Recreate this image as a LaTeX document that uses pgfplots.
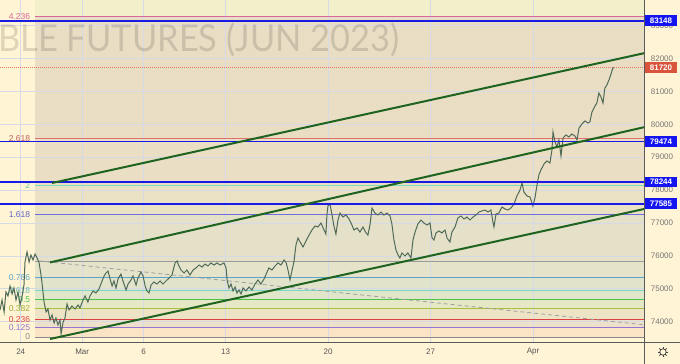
\documentclass[border=0pt]{standalone}
\usepackage{fontspec}
\setmainfont{Liberation Sans}
\newfontfamily\wmfont{Lato}
\usepackage{pgfplots}
\pgfplotsset{compat=1.18}

\definecolor{cream}{HTML}{FFF4D3}
\definecolor{panel}{HTML}{FFF4D5}
\definecolor{gridc}{HTML}{D6D9E6}
\definecolor{tickc}{HTML}{767676}
\definecolor{datec}{HTML}{555555}
\definecolor{sepc}{HTML}{5A5A5A}
\definecolor{bA}{HTML}{F2EFCB}
\definecolor{bB}{HTML}{E9DDC4}
\definecolor{bC}{HTML}{EADFC4}
\definecolor{bD}{HTML}{EBE1C5}
\definecolor{bE}{HTML}{E5E0C8}
\definecolor{bF}{HTML}{E5E3CA}
\definecolor{bG}{HTML}{E1E4CB}
\definecolor{bH}{HTML}{DFE6C9}
\definecolor{bI}{HTML}{E6E7C5}
\definecolor{bJ}{HTML}{EDE4C6}
\definecolor{bK}{HTML}{EEE1CC}
\definecolor{bL}{HTML}{FBE4C6}
\definecolor{f4236}{HTML}{D8679C}
\definecolor{f2618}{HTML}{E07070}
\definecolor{f2}{HTML}{7DDDB5}
\definecolor{f1618}{HTML}{6E6EE0}
\definecolor{f1}{HTML}{9A9A9A}
\definecolor{f0786}{HTML}{5BA3C8}
\definecolor{f0618}{HTML}{78D8C8}
\definecolor{f05}{HTML}{4CC44C}
\definecolor{f0382}{HTML}{A8C040}
\definecolor{f0236}{HTML}{E04040}
\definecolor{f0125}{HTML}{9575CD}
\definecolor{f0}{HTML}{8A8A8A}
\definecolor{lvlblue}{HTML}{1A1AE6}
\definecolor{boxblue}{HTML}{1414F0}
\definecolor{boxred}{HTML}{D9533D}
\definecolor{chan}{HTML}{1E6420}
\definecolor{pricec}{HTML}{4F6B58}

\begin{document}
\begin{tikzpicture}[x=1pt,y=1pt]
\fill[panel] (0,0) rectangle (680,364);
\begin{axis}[
  at={(0pt,22pt)}, anchor=south west,
  width=644pt, height=342pt, scale only axis,
  xmin=-0.88, xmax=30.54, ymin=73381, ymax=83778,
  clip=false,
  axis background/.style={fill=cream},
  axis line style={draw=none},
  major tick length=0pt,
  xtick={0.13,3.13,6.13,10.13,15.13,20.13,25.13},
  xticklabels={24,Mar,6,13,20,27,Apr},
  ytick={74000,75000,76000,77000,78000,79000,80000,81000,82000,83000},
  yticklabel pos=right,
  scaled y ticks=false,
  tick label style={font=\fontsize{8}{9}\selectfont, inner sep=0pt},
  xticklabel style={anchor=center, yshift=-10pt, text=datec},
  yticklabel style={anchor=center, xshift=18pt, text=tickc},
  /pgf/number format/.cd, fixed, 1000 sep={}, assume math mode=true,
]
% Fibonacci bands
\addplot[draw=none, fill=bA] coordinates {(0.84,83276) (30.54,83276) (30.54,83778) (0.84,83778)} -- cycle;
\addplot[draw=none, fill=bB] coordinates {(0.84,79554) (30.54,79554) (30.54,83276) (0.84,83276)} -- cycle;
\addplot[draw=none, fill=bC] coordinates {(0.84,78133) (30.54,78133) (30.54,79554) (0.84,79554)} -- cycle;
\addplot[draw=none, fill=bD] coordinates {(0.84,77254) (30.54,77254) (30.54,78133) (0.84,78133)} -- cycle;
\addplot[draw=none, fill=bE] coordinates {(0.84,75833) (30.54,75833) (30.54,77254) (0.84,77254)} -- cycle;
\addplot[draw=none, fill=bF] coordinates {(0.84,75341) (30.54,75341) (30.54,75833) (0.84,75833)} -- cycle;
\addplot[draw=none, fill=bG] coordinates {(0.84,74954) (30.54,74954) (30.54,75341) (0.84,75341)} -- cycle;
\addplot[draw=none, fill=bH] coordinates {(0.84,74683) (30.54,74683) (30.54,74954) (0.84,74954)} -- cycle;
\addplot[draw=none, fill=bI] coordinates {(0.84,74412) (30.54,74412) (30.54,74683) (0.84,74683)} -- cycle;
\addplot[draw=none, fill=bJ] coordinates {(0.84,74076) (30.54,74076) (30.54,74412) (0.84,74412)} -- cycle;
\addplot[draw=none, fill=bK] coordinates {(0.84,73821) (30.54,73821) (30.54,74076) (0.84,74076)} -- cycle;
\addplot[draw=none, fill=bL] coordinates {(0.84,73533) (30.54,73533) (30.54,73821) (0.84,73821)} -- cycle;

% grid
\addplot[gridc, line width=0.5pt] coordinates {(-0.88,74000) (30.54,74000)};
\addplot[gridc, line width=0.5pt] coordinates {(-0.88,75000) (30.54,75000)};
\addplot[gridc, line width=0.5pt] coordinates {(-0.88,76000) (30.54,76000)};
\addplot[gridc, line width=0.5pt] coordinates {(-0.88,77000) (30.54,77000)};
\addplot[gridc, line width=0.5pt] coordinates {(-0.88,78000) (30.54,78000)};
\addplot[gridc, line width=0.5pt] coordinates {(-0.88,79000) (30.54,79000)};
\addplot[gridc, line width=0.5pt] coordinates {(-0.88,80000) (30.54,80000)};
\addplot[gridc, line width=0.5pt] coordinates {(-0.88,81000) (30.54,81000)};
\addplot[gridc, line width=0.5pt] coordinates {(-0.88,82000) (30.54,82000)};
\addplot[gridc, line width=0.5pt] coordinates {(-0.88,83000) (30.54,83000)};
\addplot[gridc, line width=0.5pt] coordinates {(0.13,73381) (0.13,83778)};
\addplot[gridc, line width=0.5pt] coordinates {(3.13,73381) (3.13,83778)};
\addplot[gridc, line width=0.5pt] coordinates {(6.13,73381) (6.13,83778)};
\addplot[gridc, line width=0.5pt] coordinates {(10.13,73381) (10.13,83778)};
\addplot[gridc, line width=0.5pt] coordinates {(15.13,73381) (15.13,83778)};
\addplot[gridc, line width=0.5pt] coordinates {(20.13,73381) (20.13,83778)};
\addplot[gridc, line width=0.5pt] coordinates {(25.13,73381) (25.13,83778)};

% watermark
\node[anchor=base west, inner sep=0pt, text=black, text opacity=0.13, font=\wmfont\fontsize{37}{40}\selectfont, xscale=0.93] at (axis cs:-0.97,82206) {BLE FUTURES (JUN 2023)};

% Fibonacci level lines
\addplot[f4236, line width=0.9pt] coordinates {(0.84,83276) (30.54,83276)};
\addplot[f2618, line width=0.9pt] coordinates {(0.84,79554) (30.54,79554)};
\addplot[f2, line width=0.9pt] coordinates {(0.84,78133) (30.54,78133)};
\addplot[f1618, line width=0.9pt] coordinates {(0.84,77254) (30.54,77254)};
\addplot[f1, line width=1pt] coordinates {(0.84,75833) (30.54,75833)};
\addplot[f0786, line width=1pt] coordinates {(0.84,75341) (30.54,75341)};
\addplot[f0618, line width=1pt] coordinates {(0.84,74954) (30.54,74954)};
\addplot[f05, line width=0.9pt] coordinates {(0.84,74683) (30.54,74683)};
\addplot[f0382, line width=0.9pt] coordinates {(0.84,74412) (30.54,74412)};
\addplot[f0236, line width=0.9pt] coordinates {(0.84,74076) (30.54,74076)};
\addplot[f0125, line width=0.9pt] coordinates {(0.84,73821) (30.54,73821)};
\addplot[f0, line width=0.9pt] coordinates {(0.84,73533) (30.54,73533)};

% Fibonacci labels
\begin{scope}[every node/.style={anchor=east, inner sep=0pt, font=\fontsize{8.5}{9}\selectfont}]
\node[text=f4236] at (axis cs:0.6,83276) {4.236};
\node[text=f2618!85!black] at (axis cs:0.6,79554) {2.618};
\node[text=f2!90!black] at (axis cs:0.6,78133) {2};
\node[text=f1618!90!black] at (axis cs:0.6,77254) {1.618};
\node[text=f0786] at (axis cs:0.6,75341) {0.786};
\node[text=f0618!90!black] at (axis cs:0.6,74954) {0.618};
\node[text=f05] at (axis cs:0.6,74683) {0.5};
\node[text=f0382!90!black] at (axis cs:0.6,74412) {0.382};
\node[text=f0236] at (axis cs:0.6,74076) {0.236};
\node[text=f0125] at (axis cs:0.6,73821) {0.125};
\node[text=f0] at (axis cs:0.6,73533) {0};
\end{scope}

% dashed gray trend line
\addplot[gray!75, line width=0.8pt, dash pattern=on 4pt off 3pt] coordinates {(1.07,75844) (30.54,73905)};

% last price dotted line
\addplot[boxred!80, line width=0.7pt, dash pattern=on 1pt off 1pt] coordinates {(-0.88,81720) (30.54,81720)};

% price
\addplot[pricec, line width=1pt] coordinates {
(-0.88,74354) (-0.78,74658) (-0.68,74293) (-0.59,74901) (-0.49,74780) (-0.39,75084) (-0.29,74840) (-0.20,75023)
(-0.10,74658) (0.00,74901) (0.10,74506) (0.20,74780) (0.29,75114) (0.34,75813) (0.44,76117) (0.54,75813)
(0.63,76026) (0.73,75874) (0.83,76056) (0.93,75935) (1.02,75813) (1.12,75418) (1.17,75175) (1.27,74597)
(1.37,74293) (1.46,74384) (1.56,74050) (1.66,74202) (1.76,73959) (1.85,74111) (1.95,73898) (2.05,74050)
(2.10,73624) (2.20,73989) (2.29,74111) (2.39,74536) (2.49,74354) (2.63,74476) (2.78,74384) (2.93,74506)
(3.02,74415) (3.17,74658) (3.27,74780) (3.41,74597) (3.51,74780) (3.66,74932) (3.80,74871) (3.95,74992)
(4.10,75236) (4.20,75388) (4.29,75479) (4.39,75540) (4.49,75296) (4.59,75084) (4.68,75236) (4.78,75023)
(4.88,75296) (5.02,75448) (5.12,75236) (5.27,74962) (5.37,75144) (5.51,75266) (5.61,75388) (5.76,75114)
(5.85,75327) (6.00,75509) (6.10,75388) (6.20,75084) (6.29,74932) (6.39,74871) (6.49,75114) (6.63,75205)
(6.78,75144) (6.93,75236) (7.07,75144) (7.22,75236) (7.37,75327) (7.51,75418) (7.66,75783) (7.76,75844)
(7.85,75692) (7.95,75570) (8.10,75479) (8.24,75570) (8.39,75418) (8.54,75570) (8.68,75631) (8.83,75722)
(8.98,75661) (9.12,75752) (9.27,75692) (9.41,75783) (9.56,75722) (9.71,75783) (9.85,75722) (10.05,75783)
(10.15,75631) (10.20,75266) (10.29,75023) (10.39,75144) (10.49,74932) (10.59,75053) (10.68,74871) (10.78,74962)
(10.88,74840) (10.98,75023) (11.12,74932) (11.27,75053) (11.41,74962) (11.56,75144) (11.71,75266) (11.85,75144)
(12.00,75296) (12.15,75509) (12.24,75631) (12.39,75570) (12.54,75692) (12.68,75783) (12.83,75722) (12.98,75874)
(13.07,75813) (13.17,75570) (13.27,75266) (13.37,75570) (13.46,75813) (13.56,76330) (13.66,76543) (13.76,76421)
(13.90,76269) (14.05,76452) (14.20,76634) (14.34,76786) (14.49,76908) (14.63,76877) (14.78,76999) (14.93,76786)
(15.02,76664) (15.07,77242) (15.12,77516) (15.22,77576) (15.32,77242) (15.41,76908) (15.51,76664) (15.61,77090)
(15.71,77303) (15.85,77181) (16.00,77242) (16.15,77120) (16.29,76938) (16.39,76786) (16.54,76847) (16.68,76725)
(16.83,76877) (16.98,76695) (17.07,76634) (17.17,76938) (17.27,77455) (17.41,77303) (17.56,77242) (17.71,77333)
(17.85,77242) (18.00,77303) (18.15,77212) (18.24,76968) (18.34,76482) (18.44,76178) (18.54,76026) (18.63,75935)
(18.73,76087) (18.88,75996) (19.02,76087) (19.17,75935) (19.27,76482) (19.37,76725) (19.51,76968) (19.66,77090)
(19.80,76999) (19.95,76938) (20.10,76999) (20.20,76543) (20.29,76482) (20.39,76695) (20.54,76756) (20.68,76695)
(20.83,76786) (20.93,76543) (21.07,76421) (21.17,76725) (21.32,76877) (21.46,77151) (21.61,77212) (21.76,77120)
(21.90,77181) (22.05,77090) (22.20,77181) (22.34,77242) (22.49,77333) (22.63,77364) (22.78,77394) (22.93,77333)
(23.07,77394) (23.17,77029) (23.22,76877) (23.32,77272) (23.46,77303) (23.61,77485) (23.76,77424) (23.90,77394)
(24.05,77455) (24.20,77576) (24.34,77820) (24.49,78002) (24.59,78215) (24.68,77941) (24.83,77820) (24.98,77789)
(25.12,77516) (25.22,77759) (25.32,78154) (25.41,78458) (25.51,78610) (25.66,78792) (25.80,78884) (25.95,78823)
(26.05,79218) (26.10,79765) (26.20,79461) (26.29,79309) (26.39,79522) (26.49,79036) (26.59,79583) (26.73,79674)
(26.88,79613) (27.02,79704) (27.17,79644) (27.27,79522) (27.37,79887) (27.51,80008) (27.66,80100) (27.80,80039)
(27.90,80070) (28.00,80373) (28.15,80556) (28.24,80647) (28.34,80951) (28.44,80829) (28.54,80647) (28.63,81103)
(28.73,81194) (28.83,81346) (28.93,81528) (29.02,81711) (29.07,81720)
};

% horizontal blue levels
\addplot[lvlblue, line width=1.8pt] coordinates {(-0.88,83148) (30.54,83148)};
\addplot[lvlblue, line width=1.8pt] coordinates {(-0.88,79474) (30.54,79474)};
\addplot[lvlblue, line width=1.8pt] coordinates {(-0.88,78244) (30.54,78244)};
\addplot[lvlblue, line width=1.8pt] coordinates {(-0.88,77585) (30.54,77585)};

% channel lines
\addplot[chan, line width=2pt] coordinates {(1.66,78215) (30.54,82160)};
\addplot[chan, line width=2pt] coordinates {(1.56,75800) (30.54,79910)};
\addplot[chan, line width=2pt] coordinates {(1.56,73472) (30.54,77424)};

% price-axis boxes
\begin{scope}[every node/.style={anchor=center, inner sep=0pt, minimum width=32pt, minimum height=10.5pt, text=white, font=\bfseries\fontsize{8}{9}\selectfont, xshift=17pt}]
\node[fill=boxblue] at (axis cs:30.54,83148) {83148};
\node[fill=boxred] at (axis cs:30.54,81720) {81720};
\node[fill=boxblue] at (axis cs:30.54,79474) {79474};
\node[fill=boxblue] at (axis cs:30.54,78244) {78244};
\node[fill=boxblue] at (axis cs:30.54,77585) {77585};
\end{scope}
\end{axis}
% separators
\draw[sepc, line width=0.8pt] (644,0) -- (644,364);
\draw[sepc, line width=0.8pt] (0,22) -- (680,22);
% settings gear
\draw[black!75, line width=0.7pt] (663,12) circle (3.2pt);
\foreach \a in {0,45,...,315} \draw[black!75, line width=0.9pt] (663,12) ++(\a:3.2pt) -- ++(\a:1.8pt);
\pgfresetboundingbox
\path[use as bounding box] (0,0) rectangle (680,364);
\end{tikzpicture}
\end{document}
